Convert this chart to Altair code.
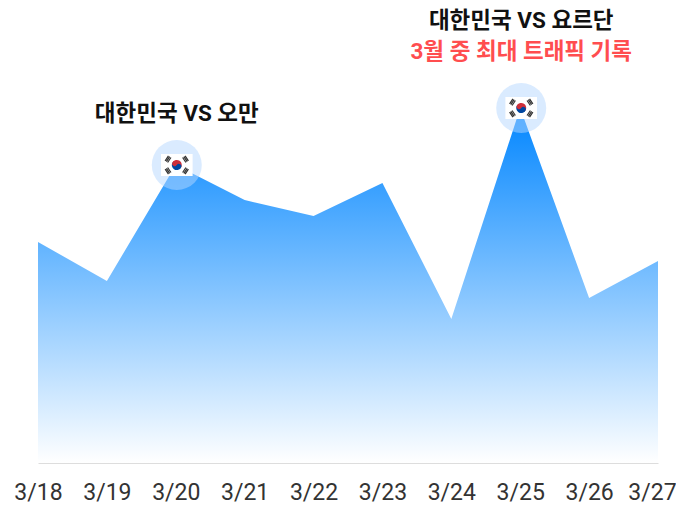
import base64
import altair as alt
import pandas as pd

dates = ["3/18", "3/19", "3/20", "3/21", "3/22", "3/23", "3/24", "3/25", "3/26", "3/27"]
traffic = [221, 182, 298, 263, 247, 280, 144, 355, 165, 202]
highlight_dates = ["3/20", "3/25"]
highlight_values = [298, 355]
note_dates = ["3/20", "3/25", "3/25"]
note_values = [298, 355, 355]
note_texts = ["대한민국 VS 오만", "대한민국 VS 요르단", "3월 중 최대 트래픽 기록"]
note_colors = ["#111111", "#111111", "#ff4d4f"]
note_dy = [-51, -87, -56]

flag_svg = """<svg xmlns='http://www.w3.org/2000/svg' width='64' height='44' viewBox='0 0 64 44'>
<rect width='64' height='44' fill='#fff'/>
<g transform='translate(32 22) rotate(33.7)'>
<path d='M-10 0a10 10 0 0 1 20 0z' fill='#cd2e3a'/>
<path d='M-10 0a10 10 0 0 0 20 0z' fill='#0047a0'/>
<circle cx='-5' cy='0' r='5' fill='#cd2e3a'/>
<circle cx='5' cy='0' r='5' fill='#0047a0'/>
</g>
<g stroke='#333' stroke-width='2.4'>
<g transform='translate(32 22) rotate(33.7)'><path d='M-24 -6v12M-21 -6v12M-18 -6v12M18 -6v12M21 -6v12M24 -6v12'/></g>
<g transform='translate(32 22) rotate(-33.7)'><path d='M-24 -6v12M-21 -6v12M-18 -6v12M18 -6v12M21 -6v12M24 -6v12'/></g>
</g></svg>"""
flag_url = "data:image/svg+xml;base64," + base64.b64encode(flag_svg.encode()).decode()

df = pd.DataFrame({"date": dates, "traffic": traffic})
hi = pd.DataFrame({"date": highlight_dates, "traffic": highlight_values, "flag": [flag_url] * 2})
notes = pd.DataFrame({"date": note_dates, "traffic": note_values, "text": note_texts,
                      "color": note_colors, "dy": note_dy})

x = alt.X("date:O", sort=dates, title=None,
          scale=alt.Scale(type="point", padding=0),
          axis=alt.Axis(labelAngle=0, labelFontSize=23, labelColor="#333333", labelPadding=18,
                        labelOffset={"condition": {"test": "datum.value === '3/27'", "value": -6}, "value": 0},
                        labelFont="Roboto", labelFontWeight=400, ticks=False, domainColor="#dddddd",
                        domainWidth=1, grid=False, labelOverlap=False))
y = alt.Y("traffic:Q", title=None, scale=alt.Scale(domain=[0, 455], nice=False, zero=True), axis=None)

area = alt.Chart(df).mark_area(
    interpolate="linear",
    color=alt.Gradient(gradient="linear", x1=0, x2=0, y1=0, y2=1,
                       stops=[alt.GradientStop(color="#0085ff", offset=0),
                              alt.GradientStop(color="#ffffff", offset=1)]),
).encode(x=x, y=y)

halo = alt.Chart(hi).mark_circle(size=2500, color="#b5d8ff", opacity=0.5, xOffset=1).encode(x=x, y=y)
flags = alt.Chart(hi).mark_image(width=32, height=22, xOffset=1).encode(x=x, y=y, url="flag:N")

labels = [
    alt.Chart(notes[notes["text"] == t]).mark_text(
        font="Roboto, Noto Sans CJK KR", fontSize=22.5, fontWeight=700, align="center",
        baseline="middle", dx=1, dy=int(d), color=c,
    ).encode(x=x, y=y, text="text:N")
    for t, d, c in zip(note_texts, note_dy, note_colors)
]

chart = alt.layer(area, halo, flags, *labels).properties(
    width=620, height=455,
    padding={"left": 30, "top": 0, "right": 18, "bottom": 42},
    autosize=alt.AutoSizeParams(type="none"),
).configure_view(stroke=None)

chart.save("out.html", embed_options={"renderer": "svg", "actions": False})
